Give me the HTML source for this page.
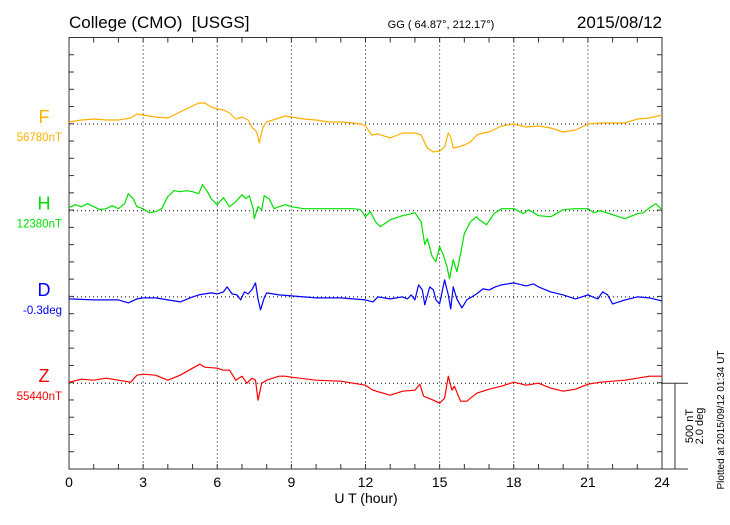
<!DOCTYPE html>
<html><head><meta charset="utf-8"><style>
body{margin:0;background:#fff;}
svg text{font-family:"Liberation Sans",sans-serif;}
</style></head><body>
<svg width="730" height="520" viewBox="0 0 730 520" xmlns="http://www.w3.org/2000/svg">
<g id="static"></g>
<g id="series"></g>
</svg>
<script>
// hours and deviation values (nT, positive up) from baseline for each component
const fHours=[0,0.5,1,1.5,2,2.5,2.75,3,3.5,4,4.5,5,5.25,5.5,5.75,6,6.25,6.5,6.75,7,7.25,7.4,7.6,7.7,7.85,8,8.25,8.5,8.75,9,9.5,10,10.5,11,11.5,11.8,12,12.25,12.5,13,13.5,14,14.25,14.5,14.75,15,15.2,15.35,15.45,15.55,15.75,16,16.25,16.5,16.75,17,17.25,17.5,18,18.5,19,19.5,20,20.5,21,21.5,22,22.5,23,23.5,24];
const fValues=[12,24,30,24,24,36,60,54,42,36,72,108,126,126,102,90,84,66,30,42,24,-18,-48,-114,-18,12,24,36,48,42,30,24,12,12,6,0,-12,-66,-60,-84,-54,-54,-66,-144,-168,-162,-138,-54,-78,-144,-138,-126,-108,-66,-54,-48,-30,-12,0,-18,-12,-24,-48,-36,0,6,6,6,30,36,54];
const hHours=[0,0.25,0.5,0.75,1,1.25,1.5,1.75,2,2.25,2.4,2.6,2.75,3,3.25,3.5,3.75,4,4.25,4.5,4.75,5,5.25,5.4,5.6,5.75,6,6.25,6.5,6.75,7,7.15,7.3,7.45,7.5,7.65,7.8,7.9,8.1,8.3,8.5,8.75,9,9.5,10,10.5,11,11.5,11.8,12,12.2,12.4,12.6,13,13.5,13.7,14,14.25,14.4,14.5,14.7,14.85,15,15.15,15.3,15.4,15.55,15.7,15.85,16,16.25,16.5,16.6,16.9,17.2,17.5,18,18.4,18.6,19,19.5,20,20.5,21,21.25,21.5,22,22.5,23,23.25,23.5,23.75,24];
const hValues=[18,36,24,42,24,6,12,30,12,42,102,72,24,12,-12,-6,12,84,120,114,120,114,102,156,114,72,36,78,24,54,96,72,90,12,-48,24,6,90,72,12,24,36,24,12,12,12,12,12,6,-36,-6,-66,-96,-54,-30,-24,-12,-66,-204,-168,-276,-306,-216,-264,-336,-408,-294,-366,-258,-138,-66,-36,-54,-84,-18,12,12,-18,6,-30,-36,6,12,12,-12,0,-24,-48,-18,-12,18,42,6,48];
const dHours=[0,1,2,2.4,2.75,3,3.5,4,4.5,5,5.25,5.5,5.75,6,6.25,6.4,6.6,6.8,6.95,7.1,7.25,7.4,7.55,7.65,7.75,7.9,8,8.5,9,10,11,12,12.3,12.5,13,13.5,13.7,13.85,14,14.15,14.3,14.4,14.6,14.75,14.85,15,15.2,15.35,15.45,15.55,15.7,15.9,16.1,16.5,16.75,17,17.25,17.5,18,18.5,18.8,19,19.5,20,20.5,21,21.4,21.6,21.8,22,22.5,23,23.5,24];
const dValues=[-12,-18,-18,-36,-12,-6,-6,-18,-30,0,12,18,24,18,30,60,18,12,-18,30,18,42,84,-12,-78,-6,24,12,6,-6,-6,-18,-30,0,-12,0,-12,12,-18,72,42,-48,60,42,-18,-42,102,12,-72,60,-12,-66,-18,18,48,42,60,72,84,66,78,60,30,12,-12,12,-12,30,12,-42,-18,0,-6,-24];
const zHours=[0,0.5,1,1.5,2,2.5,2.75,3,3.5,4,4.5,5,5.3,5.5,6,6.25,6.5,6.75,7,7.2,7.4,7.55,7.65,7.8,8,8.5,8.75,9,10,11,12,12.3,13,13.5,14,14.2,14.35,14.75,15,15.2,15.35,15.5,15.6,15.85,16.1,16.5,17,17.5,18,18.5,19,19.5,20,20.5,21,21.5,22,22.5,23,23.5,24];
const zValues=[6,24,18,30,18,6,48,54,48,18,48,90,114,96,90,78,78,18,42,0,30,18,-102,0,18,42,42,36,18,12,-12,-42,-72,-48,-42,-6,-78,-102,-120,-90,42,-42,-18,-108,-108,-60,-36,-18,6,-12,0,-30,-48,-36,-6,6,12,18,30,42,42];
const xTickLabels=["0","3","6","9","12","15","18","21","24"];
const seriesNames=["F","H","D","Z"];
const baseLabels=["56780nT","12380nT","-0.3deg","55440nT"];
const colors=["#FFB000","#00E000","#0000FF","#FF0000"];

const NS="http://www.w3.org/2000/svg";
const L=69,R=662,T=37.5,B=469,div=86.3;
const bases=[124,210.7,296.9,383.2];
const pxPerNT=1/6;
const xs=h=>L+(R-L)*h/24;
const ys=(i,v)=>bases[i]-v*pxPerNT;
function mk(parent,tag,attrs,text){const e=document.createElementNS(NS,tag);for(const k in attrs)e.setAttribute(k,attrs[k]);if(text!==undefined)e.textContent=text;parent.appendChild(e);return e;}
const st=document.getElementById('static'),sg=document.getElementById('series');

let t;
t=mk(st,'text',{x:69,y:28,'font-size':17,fill:'#000'},'College (CMO)\u00a0 [USGS]');


t=mk(st,'text',{x:441,y:28,'font-size':11,'text-anchor':'middle',fill:'#000'},'GG ( 64.87°, 212.17°)');


t=mk(st,'text',{x:662,y:28,'font-size':17,'text-anchor':'end',fill:'#000'},'2015/08/12');



for(let h=3;h<24;h+=3){const g=mk(st,'line',{x1:xs(h),x2:xs(h),y1:T,y2:B,stroke:'#000','stroke-width':1,'stroke-dasharray':'1,3'});

}
bases.forEach((b,i)=>{const g=mk(st,'line',{x1:L,x2:R,y1:b,y2:b,stroke:'#000','stroke-width':1,'stroke-dasharray':'1,3'});

});
for(let h=1;h<24;h++){mk(st,'line',{x1:xs(h),x2:xs(h),y1:T,y2:T+5,stroke:'#333'});mk(st,'line',{x1:xs(h),x2:xs(h),y1:B,y2:B-5,stroke:'#333'});}
for(let k=1;k<25;k++){const y=T+k*div/5;mk(st,'line',{x1:L,x2:L+5,y1:y,y2:y,stroke:'#333'});mk(st,'line',{x1:R,x2:R-5,y1:y,y2:y,stroke:'#333'});}
const fr=mk(st,'rect',{x:L,y:T,width:R-L,height:B-T,fill:'none',stroke:'#333','stroke-width':1});


xTickLabels.forEach((lab,i)=>{const e=mk(st,'text',{x:xs(i*3),y:487,'font-size':14,'text-anchor':'middle',fill:'#000'},lab);

});
t=mk(st,'text',{x:366,y:503,'font-size':14,'text-anchor':'middle',fill:'#000'},'U T (hour)');


seriesNames.forEach((n,i)=>{const a=mk(st,'text',{x:44,y:bases[i]-1,'font-size':18,'text-anchor':'middle',fill:colors[i]},n);


const b=mk(st,'text',{x:62,y:bases[i]+17,'font-size':11.5,'text-anchor':'end',fill:colors[i]},baseLabels[i]);

});
const sb=mk(st,'g',{});


mk(sb,'line',{x1:R,x2:688,y1:bases[3],y2:bases[3],stroke:'#333'});
mk(sb,'line',{x1:R,x2:688,y1:B,y2:B,stroke:'#333'});
mk(sb,'line',{x1:675,x2:675,y1:bases[3],y2:B,stroke:'#333'});
mk(sb,'text',{x:0,y:0,'font-size':11,'text-anchor':'middle',fill:'#000',transform:'translate(693,426) rotate(-90)'},'500 nT');
mk(sb,'text',{x:0,y:0,'font-size':11,'text-anchor':'middle',fill:'#000',transform:'translate(703,426) rotate(-90)'},'2.0 deg');
t=mk(st,'text',{x:0,y:0,'font-size':10,'text-anchor':'middle',fill:'#000',transform:'translate(724,420) rotate(-90)'},'Plotted at 2015/09/12 01:34 UT');


[[fHours,fValues],[hHours,hValues],[dHours,dValues],[zHours,zValues]].forEach((s,i)=>{
  const pts=s[0].map((h,j)=>xs(h).toFixed(1)+','+ys(i,s[1][j]).toFixed(1)).join(' ');
  const p=mk(sg,'polyline',{points:pts,fill:'none',stroke:colors[i],'stroke-width':1.2,'stroke-linejoin':'round'});
  
  
});
</script>
</body></html>
